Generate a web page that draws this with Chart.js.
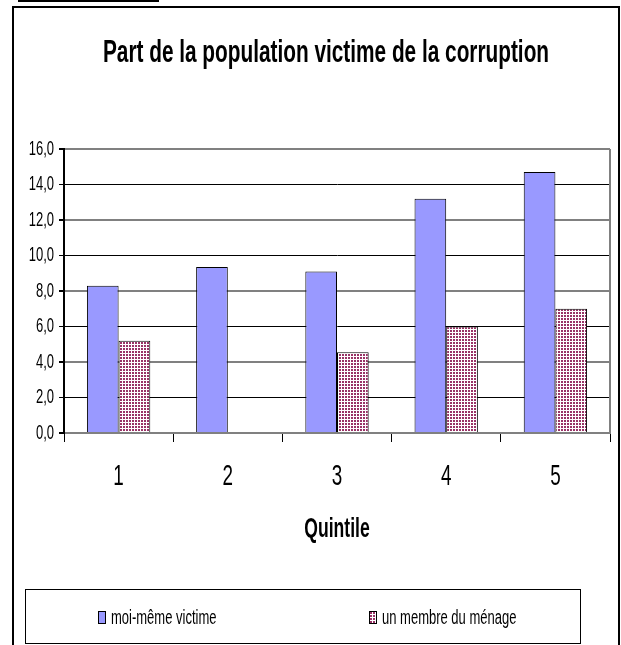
<!DOCTYPE html>
<html lang="fr">
<head>
<meta charset="utf-8">
<title>Part de la population victime de la corruption</title>
<script src="https://cdn.jsdelivr.net/npm/chart.js@4.4.1/dist/chart.umd.min.js"></script>
<style>
    html, body { margin: 0; padding: 0; background: #fff; overflow: hidden; }
    #pagina { position: relative; width: 621px; height: 645px; overflow: hidden; }
    #barra { position: absolute; left: 18px; top: 0; width: 141px; height: 2px; background: #000; }
    #marco { position: absolute; left: 12px; top: 6px; width: 608px; height: 700px; border: 2px solid #000; box-sizing: border-box; }
    #grafica { position: absolute; left: 0; top: 0; }
    #titulo { position: absolute; left: -74px; top: 33px; width: 800px; height: 38px; line-height: 38px; text-align: center;
              font: bold 32px 'Liberation Sans', Arial, sans-serif; color: #000; white-space: nowrap;
              transform: scaleX(0.65); transform-origin: 400px 50%; }
    #leyenda { position: absolute; left: 25px; top: 589px; width: 556px; height: 55px; border: 1px solid #000; box-sizing: border-box; }
    .item { position: absolute; top: 16px; height: 22px; display: flex; align-items: center; white-space: nowrap;
            font: 20px 'Liberation Sans', Arial, sans-serif; color: #000; }
    .caja { width: 8px; height: 13px; border: 1px solid #000; box-sizing: border-box; margin-right: 5px; flex: none; }
    .texto { display: inline-block; transform: scaleX(0.65); transform-origin: 0 50%; }
</style>
</head>
<body>
<div id="pagina">
    <div id="barra"></div>
    <div id="marco"></div>
    <canvas id="grafica" width="621" height="645"></canvas>
    <div id="titulo">Part de la population victime de la corruption</div>
    <div id="leyenda"></div>
</div>
<script>
// datos del gráfico
const quintiles = ['1', '2', '3', '4', '5'];
const series = ['moi-même victime', 'un membre du ménage'];
const moiMeme = [8.3, 9.35, 9.1, 13.2, 14.7];
const membreMenage = [5.2, null, 4.55, 6.0, 7.0];
const ticksY = [0, 2, 4, 6, 8, 10, 12, 14, 16];

const fuente = "'Liberation Sans', Arial, sans-serif";
const estrechez = 0.65;
const colorAzul = '#9999FF';
const colorTrama = '#993366';

document.addEventListener('DOMContentLoaded', function () {
    const trama = crearTrama();
    const chart = graficaBarras(trama.patron);
    leyendaHtml(chart, trama.url);
});

// Arial Narrow no está instalada: se estrecha a mano el texto del canvas
function textoEstrecho(ctx, factor) {
    const fillTextOriginal = ctx.fillText;
    ctx.fillText = function (texto, x, y) {
        this.save();
        this.translate(x, y);
        this.scale(factor, 1);
        fillTextOriginal.call(this, texto, 0, 0);
        this.restore();
    };
}

// trama de puntos para la segunda serie
function crearTrama() {
    const c = document.createElement('canvas');
    c.width = 3;
    c.height = 3;
    const ctx = c.getContext('2d');
    ctx.fillStyle = '#fff';
    ctx.fillRect(0, 0, 3, 3);
    ctx.fillStyle = colorTrama;
    ctx.fillRect(0, 0, 2, 2);
    const patron = document.getElementById('grafica').getContext('2d').createPattern(c, 'repeat');
    return { patron: patron, url: c.toDataURL() };
}

// borde derecho del área de trazado
const bordeDerecho = {
    id: 'bordeDerecho',
    beforeDatasetsDraw(chart) {
        const { ctx, chartArea } = chart;
        ctx.save();
        ctx.strokeStyle = '#808080';
        ctx.lineWidth = 2;
        ctx.beginPath();
        ctx.moveTo(chartArea.right, chartArea.top);
        ctx.lineTo(chartArea.right, chartArea.bottom);
        ctx.stroke();
        ctx.restore();
    }
};

function graficaBarras(patron) {
    const data = {
        labels: quintiles,
        datasets: [{
            label: series[0],
            data: moiMeme,
            backgroundColor: colorAzul,
            borderColor: '#000',
            borderWidth: 1
        }, {
            label: series[1],
            data: membreMenage,
            backgroundColor: patron,
            borderColor: '#000',
            borderWidth: 1
        }]
    };

    const config = {
        type: 'bar',
        data: data,
        options: {
            responsive: false,
            animation: false,
            categoryPercentage: 0.58,
            barPercentage: 1.0,
            layout: {
                // arriba queda el título (en html)
                padding: { top: 149, left: 0, right: 11, bottom: 92 }
            },
            plugins: {
                legend: { display: false },
                tooltip: { enabled: false }
            },
            scales: {
                x: {
                    grid: { offset: true, drawOnChartArea: false, color: '#000', tickLength: 9 },
                    border: { color: '#808080', width: 2 },
                    ticks: { color: '#000', padding: 18, font: { family: fuente, size: 29 } },
                    title: {
                        display: true,
                        text: 'Quintile',
                        color: '#000',
                        font: { family: fuente, size: 27, weight: 'bold' },
                        padding: { top: 0, bottom: 7 }
                    },
                    afterFit: function (scale) { scale.height = 120; }
                },
                y: {
                    min: ticksY[0],
                    max: ticksY[ticksY.length - 1],
                    grid: {
                        color: ctx => (ctx.tick && ctx.tick.value % 4 === 0) ? '#808080' : '#000',
                        lineWidth: ctx => (ctx.tick && ctx.tick.value % 4 === 0) ? 2 : 1,
                        tickColor: '#000',
                        tickLength: 5
                    },
                    border: { color: '#000', width: 2 },
                    ticks: {
                        stepSize: ticksY[1] - ticksY[0],
                        color: '#000',
                        padding: 5,
                        font: { family: fuente, size: 20 },
                        callback: v => v.toFixed(1).replace('.', ',')
                    },
                    afterFit: function (scale) { scale.width = 64; }
                }
            }
        },
        plugins: [bordeDerecho]
    };

    const ctx = document.getElementById('grafica').getContext('2d');
    textoEstrecho(ctx, estrechez);
    return new Chart(ctx, config);
}

// leyenda con marco, como en el original
function leyendaHtml(chart, urlTrama) {
    const cont = document.getElementById('leyenda');
    const posiciones = [72, 343];
    chart.data.datasets.forEach((ds, i) => {
        const item = document.createElement('div');
        item.className = 'item';
        item.style.left = posiciones[i] + 'px';
        const caja = document.createElement('span');
        caja.className = 'caja';
        if (i === 0) {
            caja.style.background = colorAzul;
        } else {
            caja.style.backgroundImage = 'url(' + urlTrama + ')';
        }
        const texto = document.createElement('span');
        texto.className = 'texto';
        texto.textContent = ds.label;
        item.appendChild(caja);
        item.appendChild(texto);
        cont.appendChild(item);
    });
}
</script>
</body>
</html>
